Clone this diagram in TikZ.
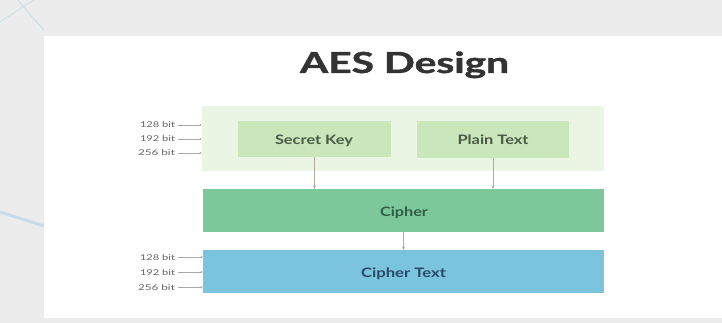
\documentclass[tikz,border=0pt]{standalone}
\usepackage{fontspec}
\setmainfont{Lato}
\newfontfamily\titlefont{Lato}[BoldFeatures={FakeBold=1.2}]
\usepackage{graphicx}
\usetikzlibrary{arrows.meta}
\definecolor{bggray}{HTML}{ECECEC}
\definecolor{decoblue}{HTML}{A9CFE6}
\definecolor{outerfill}{HTML}{EAF6E3}
\definecolor{innerfill}{HTML}{C9E7BA}
\definecolor{cipherfill}{HTML}{7CC89A}
\definecolor{ctfill}{HTML}{7BC4DD}
\definecolor{titlecol}{HTML}{333333}
\definecolor{greentext}{HTML}{4A5A47}
\definecolor{ciphertext}{HTML}{2F5E45}
\definecolor{bluetext}{HTML}{2B4A6A}
\definecolor{bitcol}{HTML}{666666}
\definecolor{arrcol}{HTML}{B3AA98}
\definecolor{bitarr}{HTML}{A8A8A8}
\newcommand\fitw[2]{\resizebox{#1}{\height}{#2}}
\begin{document}
\begin{tikzpicture}[x=1pt,y=-1pt,
  box/.style={rectangle, inner sep=0pt, outer sep=0pt, draw=none},
  lbl/.style={inner sep=0pt, outer sep=0pt, anchor=base},
  bitlbl/.style={inner sep=0pt, outer sep=0pt, anchor=base east, text=bitcol},
  downarr/.style={draw=arrcol, line width=0.7pt, -{Stealth[length=3.5pt,width=3pt]}},
  bitarrow/.style={draw=bitarr, line width=0.5pt, -{Stealth[length=2.5pt,width=2.2pt]}},
  deco/.style={draw=decoblue, opacity=0.55}
]
\useasboundingbox (0,0) rectangle (722,323);
\fill[bggray] (0,0) rectangle (722,323);
% decorative strokes in the left margin
\draw[deco, line width=0.8pt] (18,0) .. controls (28,12) and (36,22) .. (44,30);
\draw[deco, line width=0.6pt] (0,22) .. controls (12,14) and (24,6) .. (34,0);
\draw[deco, line width=3pt] (0,212) -- (44,226);
% white card
\fill[white] (44,36) rectangle (722,318);

% title
\node[lbl, text=titlecol] (title) at (404.5,73) {\fitw{209pt}{\titlefont\fontsize{29}{29}\selectfont\bfseries AES Design}};

% boxes
\node[box, fill=outerfill, minimum width=402pt, minimum height=65pt] (outer) at (403,138.5) {};
\node[box, fill=innerfill, minimum width=153pt, minimum height=36pt] (sk) at (314.5,139) {};
\node[box, fill=innerfill, minimum width=152pt, minimum height=37pt] (pt) at (493,139.5) {};
\node[box, fill=cipherfill, minimum width=401pt, minimum height=43pt] (cipher) at (403.5,210.5) {};
\node[box, fill=ctfill, minimum width=401pt, minimum height=43pt] (ct) at (403.5,271.5) {};

% box labels
\node[lbl, text=greentext] (sklbl) at (314,145) {\fitw{78pt}{\fontsize{13}{13}\selectfont\bfseries Secret Key}};
\node[lbl, text=greentext] (ptlbl) at (493,145) {\fitw{71pt}{\fontsize{13}{13}\selectfont\bfseries Plain Text}};
\node[lbl, text=ciphertext] (clbl) at (404,216) {\fitw{48pt}{\fontsize{13}{13}\selectfont\bfseries Cipher}};
\node[lbl, text=bluetext] (ctlbl) at (403.5,277) {\fitw{85pt}{\fontsize{13}{13}\selectfont\bfseries Cipher Text}};

% vertical arrows
\draw[downarr] (sk.south) -- (sk.south |- cipher.north);
\draw[downarr] (pt.south) -- (pt.south |- cipher.north);
\draw[downarr] (cipher.south) -- (ct.north);

% bit labels, top
\node[bitlbl] (a1) at (175,128) {\fitw{35pt}{\fontsize{8}{8}\selectfont 128 bit}};
\node[bitlbl] (a2) at (175,142) {\fitw{35pt}{\fontsize{8}{8}\selectfont 192 bit}};
\node[bitlbl] (a3) at (175,156) {\fitw{37pt}{\fontsize{8}{8}\selectfont 256 bit}};
% bit labels, bottom
\node[bitlbl] (b1) at (175,260) {\fitw{35pt}{\fontsize{8}{8}\selectfont 128 bit}};
\node[bitlbl] (b2) at (175,275) {\fitw{35pt}{\fontsize{8}{8}\selectfont 192 bit}};
\node[bitlbl] (b3) at (175,290) {\fitw{37pt}{\fontsize{8}{8}\selectfont 256 bit}};

\foreach \n in {a1,a2,a3}{
  \draw[bitarrow] ([xshift=3pt,yshift=3pt]\n.base east) -- ([yshift=3pt]outer.west |- \n.base east);
}
\foreach \n in {b1,b2,b3}{
  \draw[bitarrow] ([xshift=3pt,yshift=3pt]\n.base east) -- ([yshift=3pt]ct.west |- \n.base east);
}
\end{tikzpicture}
\end{document}
